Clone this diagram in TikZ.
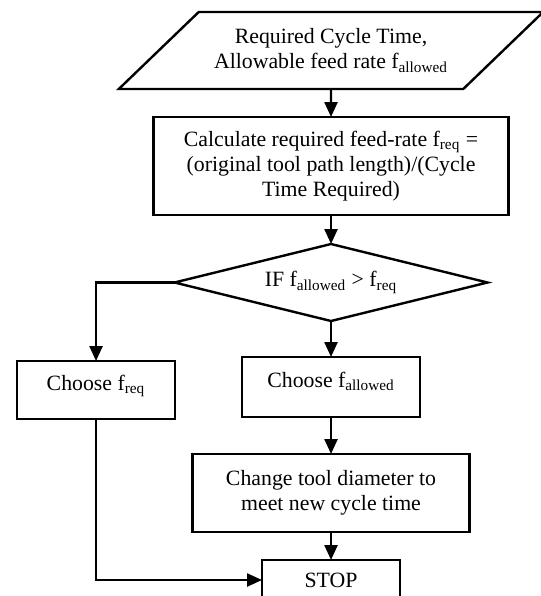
\documentclass[tikz,border=0pt]{standalone}
\usepackage{fontspec}
\setmainfont{Liberation Serif}
\usetikzlibrary{positioning, arrows.meta, shapes.geometric}

\begin{document}
\begin{tikzpicture}[
    >={Triangle[length=7.5pt, width=6.5pt]},
    every node/.style={font=\fontsize{10.9}{12.5}\selectfont, outer sep=0pt},
    io/.style={
      trapezium, trapezium left angle=37.3, trapezium right angle=142.7,
      trapezium stretches=true,
      minimum width=212.5pt, minimum height=38.5pt,
      draw, line width=1.2pt, align=center,
    },
    proc/.style={
      rectangle, draw, line width=1.2pt, align=center, inner sep=2pt,
    },
    pick/.style={proc, text depth=7pt},
    decision/.style={
      diamond, aspect=4, draw, line width=1.2pt, inner sep=1pt,
      minimum width=156.5pt, minimum height=38.5pt,
    },
    arrow/.style={->, line width=1.2pt},
  ]
  \useasboundingbox (-165.5pt,-272.75pt) rectangle (105pt,25.25pt);

  \node[io] (input)
    {Required Cycle Time,\\
     Allowable feed rate f\textsubscript{allowed}};

  \node[proc, minimum width=177.5pt, minimum height=49pt, below=14pt of input] (calc)
    {Calculate required feed-rate f\textsubscript{req} =\\
     (original tool path length)/(Cycle\\
     Time Required)};

  \node[decision, below=14.5pt of calc] (check)
    {IF f\textsubscript{allowed} > f\textsubscript{req}};

  \node[pick, minimum width=89pt, minimum height=30pt, below=18pt of check] (allowed)
    {Choose f\textsubscript{allowed}};

  \node[pick, minimum width=79pt, minimum height=29pt, left=33.5pt of allowed, yshift=-1.5pt] (req)
    {Choose f\textsubscript{req}};

  \node[proc, minimum width=138.5pt, minimum height=39pt, below=18.5pt of allowed] (tool)
    {Change tool diameter to\\
     meet new cycle time};

  \node[proc, minimum width=69pt, minimum height=20pt, below=14pt of tool] (stop) {STOP};

  \draw[arrow] (input) -- (calc);
  \draw[arrow] (calc) -- (check);
  \draw[arrow] (check) -- (allowed);
  \draw[arrow] (allowed) -- (tool);
  \draw[arrow] (tool) -- (stop);
  \draw[arrow] (check.west) -| (req.north);
  \draw[arrow] (req.south) |- (stop.west);
\end{tikzpicture}
\end{document}
